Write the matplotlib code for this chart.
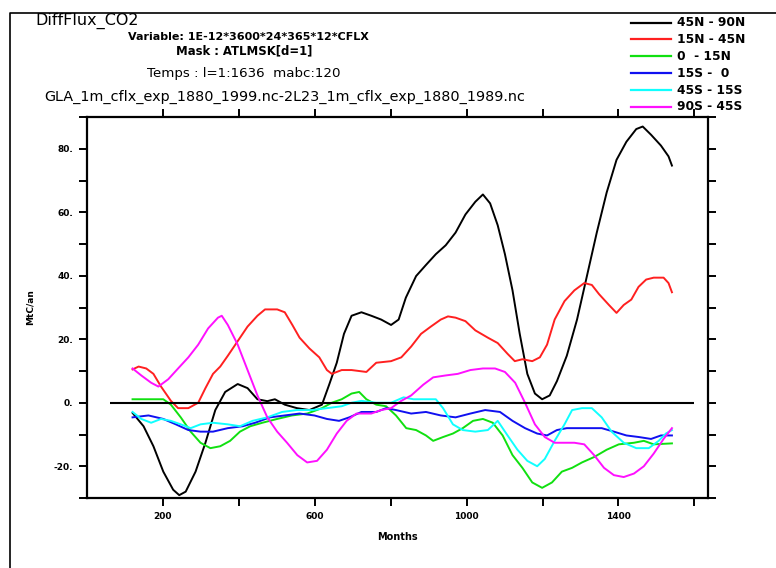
import numpy as np
import matplotlib
matplotlib.use("Agg")
import matplotlib.pyplot as plt
from matplotlib.lines import Line2D

# months and values
m_black = [120, 149, 175, 201, 227, 243, 260, 286, 312, 338, 364, 397, 423, 449, 475, 495, 521,
           553, 586, 619, 638, 658, 677, 697, 723, 749, 775, 801, 821, 840, 867, 893, 919, 945,
           971, 997, 1023, 1043, 1062, 1082, 1101, 1121, 1140, 1160, 1180, 1199, 1219, 1238,
           1264, 1291, 1317, 1343, 1369, 1395, 1421, 1447, 1464, 1486, 1512, 1532, 1541]
v_black = [-3.2, -7.4, -13.7, -21.7, -27.4, -29.1, -28, -21.7, -12.6, -2.3, 3.4, 5.9, 4.6, 1.1,
           0.5, 1.1, -0.6, -1.7, -2.3, -0.6, 5.7, 12.6, 21.7, 27.4, 28.5, 27.4, 26.2, 24.5,
           26.2, 33.1, 39.9, 43.4, 46.8, 49.6, 53.6, 59.3, 63.3, 65.6, 62.8, 55.9, 46.8, 35.4,
           21.7, 9.1, 2.9, 1.1, 2.3, 6.8, 14.8, 26.2, 39.9, 53.6, 66.2, 76.5, 82.2, 86.2, 87,
           84.4, 81, 77.6, 74.7]

m_red = [120, 136, 156, 175, 195, 221, 240, 267, 293, 312, 332, 351, 371, 397, 423, 449, 469,
         501, 521, 541, 560, 586, 612, 632, 645, 671, 697, 736, 762, 801, 828, 854, 880, 906,
         932, 951, 971, 997, 1023, 1056, 1082, 1108, 1127, 1147, 1173, 1193, 1212, 1232, 1258,
         1284, 1310, 1330, 1349, 1375, 1395, 1414, 1434, 1453, 1473, 1493, 1519, 1532, 1541]
v_red = [10.5, 11.4, 10.8, 9.1, 5.1, 0.6, -1.7, -1.7, 0, 4.6, 9.1, 11.4, 14.8, 19.4, 24, 27.4,
         29.4, 29.4, 28.5, 24.5, 20.5, 17.1, 14.3, 10.3, 9.1, 10.3, 10.3, 9.7, 12.6, 13.1,
         14.3, 17.7, 21.7, 24, 26.2, 27.2, 26.8, 25.7, 22.8, 20.5, 18.8, 15.4, 13.1, 13.7,
         13.1, 14.3, 18.3, 26.2, 32, 35.4, 37.7, 37.1, 34.2, 30.8, 28.3, 30.8, 32.5, 36.5,
         38.8, 39.4, 39.4, 37.7, 34.8]

m_green = [120, 162, 201, 221, 247, 273, 299, 325, 351, 377, 403, 430, 462, 501, 540, 580, 619,
           645, 671, 697, 717, 736, 762, 788, 814, 841, 867, 893, 912, 938, 964, 990, 1017,
           1043, 1069, 1095, 1121, 1147, 1173, 1199, 1225, 1251, 1278, 1304, 1336, 1369, 1401,
           1441, 1467, 1493, 1541]
v_green = [1.1, 1.1, 1.1, -0.6, -4.6, -9.1, -12.6, -14.3, -13.7, -12, -9.1, -7.4, -6.3, -5.1,
           -4, -3.4, -1.7, 0, 1.1, 2.9, 3.4, 1.1, -0.6, -1.1, -4, -8, -8.6, -10.3, -12, -10.8,
           -9.7, -8, -5.7, -5.1, -6.3, -10.3, -16.5, -20.5, -25.1, -26.8, -25.1, -21.7, -20.5,
           -18.8, -17.1, -14.8, -13.1, -12.6, -12, -13.1, -12.8]

m_blue = [120, 162, 201, 234, 267, 299, 332, 371, 410, 443, 482, 521, 560, 599, 632, 664, 691,
          723, 762, 788, 814, 854, 893, 932, 971, 1010, 1049, 1088, 1121, 1154, 1186, 1212,
          1238, 1264, 1317, 1356, 1388, 1421, 1454, 1486, 1512, 1541]
v_blue = [-4.6, -4, -5.1, -6.8, -8.6, -9.1, -9.1, -8, -7.4, -6.3, -4.6, -4, -3.4, -4, -5.1,
          -5.7, -4.6, -2.9, -2.9, -1.7, -2.3, -3.4, -2.9, -4, -4.6, -3.4, -2.3, -2.9, -5.7,
          -8, -9.7, -10.3, -8.6, -8, -8, -8, -9.1, -10.3, -10.8, -11.4, -10.3, -10.3]

m_cyan = [120, 143, 169, 195, 221, 247, 273, 299, 332, 371, 403, 436, 475, 514, 553, 593, 632,
          671, 697, 723, 762, 801, 834, 860, 893, 919, 938, 964, 990, 1023, 1056, 1082, 1108,
          1134, 1160, 1186, 1206, 1232, 1258, 1278, 1304, 1330, 1356, 1382, 1414, 1447, 1480,
          1506, 1525, 1541]
v_cyan = [-2.9, -5.1, -6.3, -5.1, -5.7, -6.8, -8, -6.8, -6.3, -6.8, -7.4, -5.7, -4.6, -2.9,
          -2.3, -2.3, -1.7, -1.1, 0, 0.6, 0, 0, 1.7, 1.1, 1.1, 1.1, -1.7, -6.8, -8.6, -9.1,
          -8.6, -5.7, -10.3, -14.8, -18.3, -20, -17.7, -12, -6.8, -2.3, -1.7, -1.7, -4.6,
          -9.1, -12.6, -14.3, -14.3, -12, -9.7, -8.6]

m_mag = [120, 143, 169, 188, 214, 240, 267, 293, 319, 345, 355, 371, 397, 423, 449, 475, 501,
         527, 554, 580, 606, 632, 658, 684, 710, 749, 775, 801, 828, 854, 886, 912, 945, 977,
         1010, 1043, 1075, 1101, 1128, 1154, 1180, 1206, 1232, 1284, 1310, 1336, 1362, 1388,
         1414, 1441, 1467, 1493, 1519, 1541]
v_mag = [10.8, 8.6, 6.3, 5.1, 7.4, 10.8, 14.3, 18.3, 23.4, 26.8, 27.4, 24.5, 18.3, 10.3, 2.3,
         -4.6, -9.1, -12.6, -16.5, -18.8, -18.3, -14.8, -9.7, -5.7, -3.4, -3.4, -2.3, -1.7,
         0.6, 2.3, 5.7, 8, 8.6, 9.1, 10.3, 10.8, 10.8, 9.7, 6.3, 0, -6.8, -10.8, -12.6,
         -12.6, -13.1, -16.5, -20.5, -22.8, -23.4, -22.3, -20, -16, -11.4, -8]

series_x = [m_black, m_red, m_green, m_blue, m_cyan, m_mag]
series_y = [v_black, v_red, v_green, v_blue, v_cyan, v_mag]
labels = ["45N - 90N", "15N - 45N", "0  - 15N", "15S -  0", "45S - 15S", "90S - 45S"]
colors = ["black", "#ff2020", "#10e010", "#1010f0", "#10ffff", "#ff10ff"]

xticks = [200, 400, 600, 800, 1000, 1200, 1400, 1600]
xticklabels = ["200", "", "600", "", "1000", "", "1400", ""]
yticks = [-30, -20, -10, 0, 10, 20, 30, 40, 50, 60, 70, 80, 90]
yticklabels = ["", "-20.", "", "0.", "", "20.", "", "40.", "", "60.", "", "80.", ""]

W, H = 776, 568
fig = plt.figure(figsize=(W / 100, H / 100), dpi=100)
ax = fig.add_axes([87 / W, 1 - 498 / H, (708 - 87) / W, (498 - 117) / H])

for xs, ys, c in zip(series_x, series_y, colors):
    ax.plot(xs, ys, color=c, lw=1.4)
ax.hlines(0, 60, 1600, color="black", lw=1.5)

ax.set_xlim(0, 1636)
ax.set_ylim(-30, 90)
ax.set_xticks(xticks)
ax.set_xticklabels(xticklabels, fontsize=6.5, fontweight="bold")
ax.set_yticks(yticks)
ax.set_yticklabels(yticklabels, fontsize=6.5, fontweight="bold")
ax.tick_params(direction="out", length=6, width=1.4, top=True, right=True, pad=4)
for s in ax.spines.values():
    s.set_linewidth(1.6)
ax.set_xlabel("Months", fontsize=7, fontweight="bold", labelpad=8)
ax.set_ylabel("MtC/an", fontsize=6.5, fontweight="bold", labelpad=14)

# titles
fig.text(35 / W, 1 - 21 / H, "DiffFlux_CO2", fontsize=11.5, va="center", ha="left")
fig.text(248 / W, 1 - 37 / H, "Variable: 1E-12*3600*24*365*12*CFLX", fontsize=8,
         fontweight="bold", va="center", ha="center")
fig.text(244 / W, 1 - 50.5 / H, "Mask : ATLMSK[d=1]", fontsize=8.4, fontweight="bold",
         va="center", ha="center")
fig.text(244 / W, 1 - 73 / H, "Temps : l=1:1636  mabc:120", fontsize=9.6,
         va="center", ha="center")
fig.text(285 / W, 1 - 97 / H, "GLA_1m_cflx_exp_1880_1999.nc-2L23_1m_cflx_exp_1880_1989.nc",
         fontsize=10.4, va="center", ha="center")

# legend drawn by hand in the top right corner
for i, (lab, c) in enumerate(zip(labels, colors)):
    yy = 1 - (22.5 + 16.9 * i) / H
    fig.add_artist(Line2D([631 / W, 671 / W], [yy, yy], color=c, lw=1.6,
                          transform=fig.transFigure))
    fig.text(677 / W, yy, lab, fontsize=8.8, fontweight="bold", va="center", ha="left")

# page frame
fig.add_artist(Line2D([10 / W, 10 / W, 1.0], [0.0, 1 - 13 / H, 1 - 13 / H], color="black",
                      lw=1.2, transform=fig.transFigure))

fig.savefig("out.png", dpi=100)
